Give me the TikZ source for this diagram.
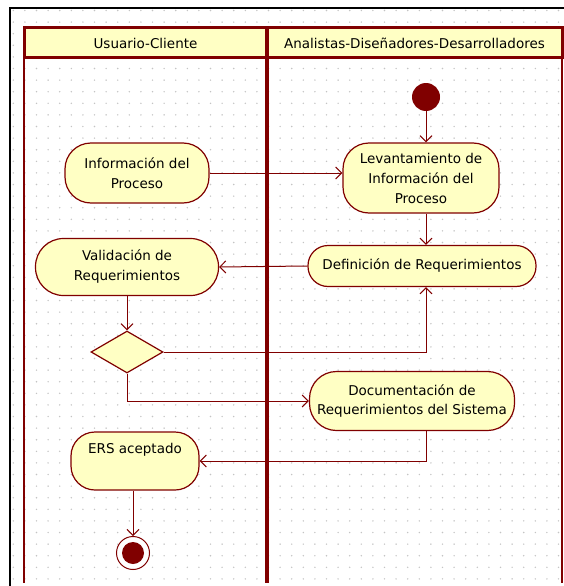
\documentclass[tikz,border=0pt]{standalone}
\usepackage{fontspec}
\setmainfont{DejaVu Sans}
\usetikzlibrary{positioning, arrows.meta, shapes.geometric}
\definecolor{umlred}{HTML}{800000}
\definecolor{umlfill}{HTML}{FFFFC4}
\definecolor{griddot}{HTML}{C4C4C4}
\newcommand{\umlfont}{\fontsize{13.5}{20}\selectfont}
\tikzset{
  action/.style={
    draw=umlred,
    line width=1.2pt,
    fill=umlfill,
    rounded corners=24pt,
    align=center,
    inner sep=2pt,
    font=\umlfont
  },
  decision/.style={
    draw=umlred,
    line width=1.2pt,
    fill=umlfill,
    diamond,
    inner sep=0pt
  },
  startnode/.style={
    circle,
    fill=umlred,
    minimum size=28pt,
    inner sep=0pt
  },
  endnode/.style={
    circle,
    draw=umlred,
    line width=1pt,
    fill=white,
    minimum size=33pt,
    inner sep=0pt
  },
  lanetitle/.style={
    font=\umlfont,
    inner sep=0pt
  },
  flow/.style={
    draw=umlred,
    line width=1pt,
    -{Straight Barb[length=6pt, width=12pt]}
  }
}
\begin{document}
\begin{tikzpicture}[x=1pt, y=-1pt]
    \useasboundingbox (0,0) rectangle (564,586);
    \fill[white] (0,0) rectangle (564,586);
    % dotted grid
    \foreach \i in {0,...,47}
      \foreach \j in {0,...,49}
        \fill[griddot] ({13.3+11.6*\i},{10.5+11.6*\j}) circle (0.8pt);
    \draw[black, line width=2pt] (10,586) -- (10,8) -- (564,8);

    % swimlanes
    \draw[umlred, line width=2pt] (24,28) -- (24,583);
    \draw[umlred, line width=4pt] (267,28) -- (267,583);
    \draw[umlred, line width=2pt] (562,28) -- (562,583);
    \filldraw[fill=umlfill, draw=umlred, line width=3pt] (24,28) rectangle (562,58);
    \draw[umlred, line width=4pt] (267,28) -- (267,58);
    \node[lanetitle] (client) at (145.5,43) {Usuario-Cliente};
    \node[lanetitle] (team) at (414.5,43) {Analistas-Diseñadores-Desarrolladores};

    % activities
    \node[startnode] (ini) at (426,97) {};
    \node[action, minimum width=156pt, minimum height=70pt, rounded corners=26pt] (lev) at (421,178) {Levantamiento de\\Información del\\Proceso};
    \node[action, minimum width=144pt, minimum height=60pt, rounded corners=26pt] (info) at (137,173) {Información del\\Proceso};
    \node[action, minimum width=228pt, minimum height=41pt, rounded corners=20pt] (def) at (422,266) {Definición de Requerimientos};
    \node[action, minimum width=183pt, minimum height=57pt, rounded corners=28pt] (val) at (127,267) {Validación de\\Requerimientos};
    \node[decision, minimum width=72pt, minimum height=42pt] (dec) at (127,352) {};
    \node[action, minimum width=205pt, minimum height=59pt, rounded corners=27pt] (doc) at (412,401) {Documentación de\\Requerimientos del Sistema};
    \node[action, minimum width=128pt, minimum height=58pt, rounded corners=24pt] (ers) at (135,461) {ERS aceptado\\ \strut};
    \node[endnode] (fin) at (133,553) {};
    \fill[umlred] (fin.center) circle (11pt);

    % transitions
    \draw[flow] (ini) -- (ini |- lev.north);
    \draw[flow] (info.east) -- (info.east -| lev.west);
    \draw[flow] (lev.south -| ini) -- (ini |- def.north);
    \draw[flow] (def.west) -- (val.east);
    \draw[flow] (val.south) -- (dec.north);
    \draw[flow] (dec.east) -| (ini |- def.south);
    \draw[flow] (dec.south) |- (doc.west);
    \draw[flow] (doc.south -| ini) |- (ers.east);
    \draw[flow] (ers.south -| fin) -- (fin.north);
\end{tikzpicture}
\end{document}
